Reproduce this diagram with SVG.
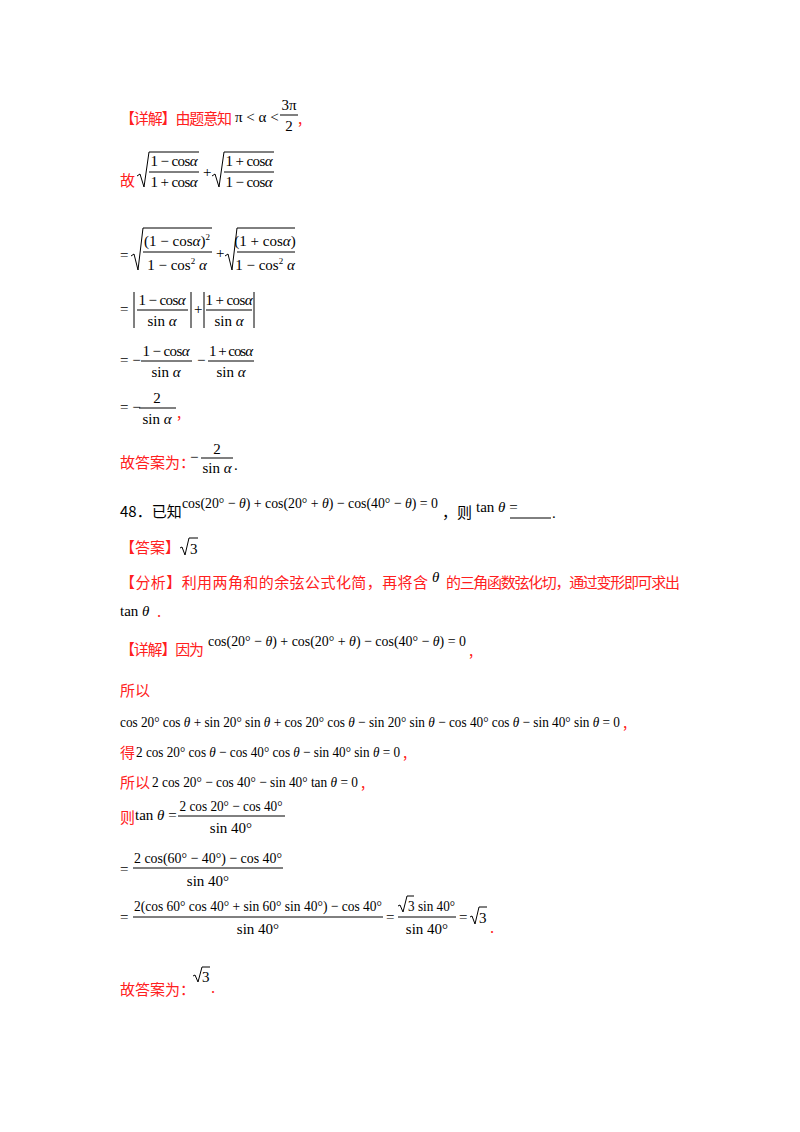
<svg xmlns="http://www.w3.org/2000/svg" width="800" height="1132" viewBox="0 0 800 1132">
<style>
text{font-family:"Liberation Serif","Noto Sans CJK SC",serif;font-size:15px;fill:#000}
.r{fill:#ff2020;font-family:"Noto Sans CJK SC",sans-serif;font-size:15px}
.c{font-family:"Noto Sans CJK SC",sans-serif}
.m{text-anchor:middle}
.i{font-style:italic}
line,path{stroke:#000;stroke-width:1;fill:none}
</style>
<rect width="800" height="1132" fill="#fff"/>
<g id="l1">
<text class="r" x="120" y="124" textLength="112">【详解】由题意知</text>
<text x="235" y="122">π &lt; α &lt;</text>
<text class="m" x="289" y="110">3π</text><line x1="280" y1="115" x2="298" y2="115"/><text class="m" x="289" y="131">2</text>
<text class="r" x="298" y="124">,</text>
</g>
<g id="l2" transform="translate(3,0)">
<text class="r" x="117" y="186">故</text>
<path d="M134 176 L137 174 L141 187 L146 152 L196 152"/>
<text class="m" x="171" y="166" textLength="47">1 − cos<tspan class="i">α</tspan></text><line x1="146" y1="172" x2="196" y2="172"/><text class="m" x="171" y="187" textLength="47">1 + cos<tspan class="i">α</tspan></text>
<text x="200" y="177">+</text>
<path d="M209 176 L212 174 L216 187 L221 152 L271 152"/>
<text class="m" x="246" y="166" textLength="47">1 + cos<tspan class="i">α</tspan></text><line x1="221" y1="172" x2="271" y2="172"/><text class="m" x="246" y="187" textLength="47">1 − cos<tspan class="i">α</tspan></text>
</g>
<g id="l3">
<text x="120" y="260">=</text>
<path d="M131 256 L134 254 L138 270 L143 228 L212 228"/>
<text class="m" x="177" y="246">(1 − cos<tspan class="i">α</tspan>)<tspan font-size="9" dy="-6">2</tspan></text><line x1="143" y1="252" x2="212" y2="252"/><text class="m" x="177" y="270">1 − cos<tspan font-size="9" dy="-6">2</tspan><tspan dy="6"> </tspan><tspan class="i">α</tspan></text>
<text x="216" y="258">+</text>
<path d="M225 256 L228 254 L232 270 L237 228 L295 228"/>
<text class="m" x="265" y="246">(1 + cos<tspan class="i">α</tspan>)</text><line x1="237" y1="252" x2="295" y2="252"/><text class="m" x="265" y="270">1 − cos<tspan font-size="9" dy="-6">2</tspan><tspan dy="6"> </tspan><tspan class="i">α</tspan></text>
</g>
<g id="l4">
<text x="120" y="314">=</text>
<line x1="134" y1="292" x2="134" y2="328"/>
<text class="m" x="162" y="305" textLength="47">1 − cos<tspan class="i">α</tspan></text><line x1="137" y1="310" x2="188" y2="310"/><text class="m" x="162" y="326">sin <tspan class="i">α</tspan></text>
<line x1="191" y1="292" x2="191" y2="328"/>
<text x="194" y="314">+</text>
<line x1="204" y1="292" x2="204" y2="328"/>
<text class="m" x="229" y="305" textLength="47">1 + cos<tspan class="i">α</tspan></text><line x1="206" y1="310" x2="252" y2="310"/><text class="m" x="229" y="326">sin <tspan class="i">α</tspan></text>
<line x1="254" y1="292" x2="254" y2="328"/>
</g>
<g id="l5">
<text x="120" y="365">= −</text>
<text class="m" x="166" y="356" textLength="47">1 − cos<tspan class="i">α</tspan></text><line x1="141" y1="361" x2="192" y2="361"/><text class="m" x="166" y="377">sin <tspan class="i">α</tspan></text>
<text x="197" y="365">−</text>
<text class="m" x="231" y="356" textLength="44">1 + cos<tspan class="i">α</tspan></text><line x1="208" y1="361" x2="254" y2="361"/><text class="m" x="231" y="377">sin <tspan class="i">α</tspan></text>
</g>
<g id="l6">
<text x="120" y="412">= −</text>
<text class="m" x="157" y="403">2</text><line x1="139" y1="408" x2="176" y2="408"/><text class="m" x="157" y="424">sin <tspan class="i">α</tspan></text>
<text class="r" x="177" y="418">,</text>
</g>
<g id="l7">
<text class="r" x="120" y="468">故答案为：</text>
<text x="190" y="462">−</text>
<text class="m" x="217" y="454">2</text><line x1="201" y1="458" x2="233" y2="458"/><text class="m" x="217" y="473">sin <tspan class="i">α</tspan></text>
<text x="234" y="470">.</text>
</g>
<g id="l8">
<text class="c" x="120" y="517" font-size="14">48．已知</text>
<text x="182" y="508" font-size="14" textLength="256" lengthAdjust="spacingAndGlyphs">cos(20° − <tspan class="i">θ</tspan>) + cos(20° + <tspan class="i">θ</tspan>) − cos(40° − <tspan class="i">θ</tspan>) = 0</text>
<text class="c" x="442" y="518" font-size="13">，则</text>
<text x="476" y="512" font-size="11">tan <tspan class="i">θ</tspan> =</text>
<line x1="510" y1="518" x2="551" y2="518"/>
<text x="552" y="518">.</text>
</g>
<g id="l9">
<text class="r" x="120" y="553">【答案】</text>
<path d="M180 548 L182 547 L185 555 L189 538 L198 538"/>
<text x="190" y="554" font-size="14">3</text>
</g>
<g id="l10">
<text class="r" x="120" y="588" textLength="308">【分析】利用两角和的余弦公式化简，再将含</text>
<text class="i" x="432" y="582">θ</text>
<text class="r" x="446" y="588" textLength="234">的三角函数弦化切，通过变形即可求出</text>
<text x="120" y="616" font-size="16">tan <tspan class="i">θ</tspan></text>
<text class="r" x="157" y="617">.</text>
</g>
<g id="l11">
<text class="r" x="120" y="655" textLength="84">【详解】因为</text>
<text x="208" y="646" textLength="258" lengthAdjust="spacingAndGlyphs">cos(20° − <tspan class="i">θ</tspan>) + cos(20° + <tspan class="i">θ</tspan>) − cos(40° − <tspan class="i">θ</tspan>) = 0</text>
<text class="r" x="469" y="656">,</text>
</g>
<g id="l12">
<text class="r" x="120" y="696">所以</text>
<text x="120" y="727" textLength="500" lengthAdjust="spacingAndGlyphs">cos 20° cos <tspan class="i">θ</tspan> + sin 20° sin <tspan class="i">θ</tspan> + cos 20° cos <tspan class="i">θ</tspan> − sin 20° sin <tspan class="i">θ</tspan> − cos 40° cos <tspan class="i">θ</tspan> − sin 40° sin <tspan class="i">θ</tspan> = 0</text>
<text class="r" x="623" y="728">,</text>
<text class="r" x="120" y="758">得</text>
<text x="136" y="757" textLength="264" lengthAdjust="spacingAndGlyphs">2 cos 20° cos <tspan class="i">θ</tspan> − cos 40° cos <tspan class="i">θ</tspan> − sin 40° sin <tspan class="i">θ</tspan> = 0</text>
<text class="r" x="403" y="758">,</text>
<text class="r" x="120" y="788">所以</text>
<text x="152" y="787" textLength="206" lengthAdjust="spacingAndGlyphs">2 cos 20° − cos 40° − sin 40° tan <tspan class="i">θ</tspan> = 0</text>
<text class="r" x="361" y="788">,</text>
</g>
<g id="l13">
<text class="r" x="120" y="823" font-size="13">则</text>
<text x="135" y="820" font-size="14">tan <tspan class="i">θ</tspan> =</text>
<text class="m" x="231" y="811" textLength="103" lengthAdjust="spacingAndGlyphs">2 cos 20° − cos 40°</text><line x1="178" y1="816" x2="285" y2="816"/><text class="m" x="231" y="833">sin 40°</text>
</g>
<g id="l14">
<text x="120" y="874">=</text>
<text class="m" x="208" y="863" textLength="148" lengthAdjust="spacingAndGlyphs">2 cos(60° − 40°) − cos 40°</text><line x1="133" y1="868" x2="283" y2="868"/><text class="m" x="208" y="886">sin 40°</text>
</g>
<g id="l15">
<text x="120" y="922">=</text>
<text class="m" x="258" y="911" textLength="248" lengthAdjust="spacingAndGlyphs">2(cos 60° cos 40° + sin 60° sin 40°) − cos 40°</text><line x1="133" y1="917" x2="383" y2="917"/><text class="m" x="258" y="934">sin 40°</text>
<text x="386" y="922">=</text>
<path d="M398 906 L400 905 L403 912 L407 896 L414 896"/>
<text x="408" y="911" textLength="47" lengthAdjust="spacingAndGlyphs">3 sin 40°</text><line x1="398" y1="917" x2="456" y2="917"/><text class="m" x="427" y="934">sin 40°</text>
<text x="459" y="922">=</text>
<path d="M470 917 L472 916 L475 924 L479 907 L487 907"/>
<text x="479" y="923">3</text>
<text class="r" x="490" y="933">.</text>
</g>
<g id="l16">
<text class="r" x="120" y="995">故答案为：</text>
<path d="M193 976 L195 975 L198 982 L202 967 L210 967"/>
<text x="202" y="982" font-size="13">3</text>
<text class="r" x="211" y="993">.</text>
</g>
</svg>
